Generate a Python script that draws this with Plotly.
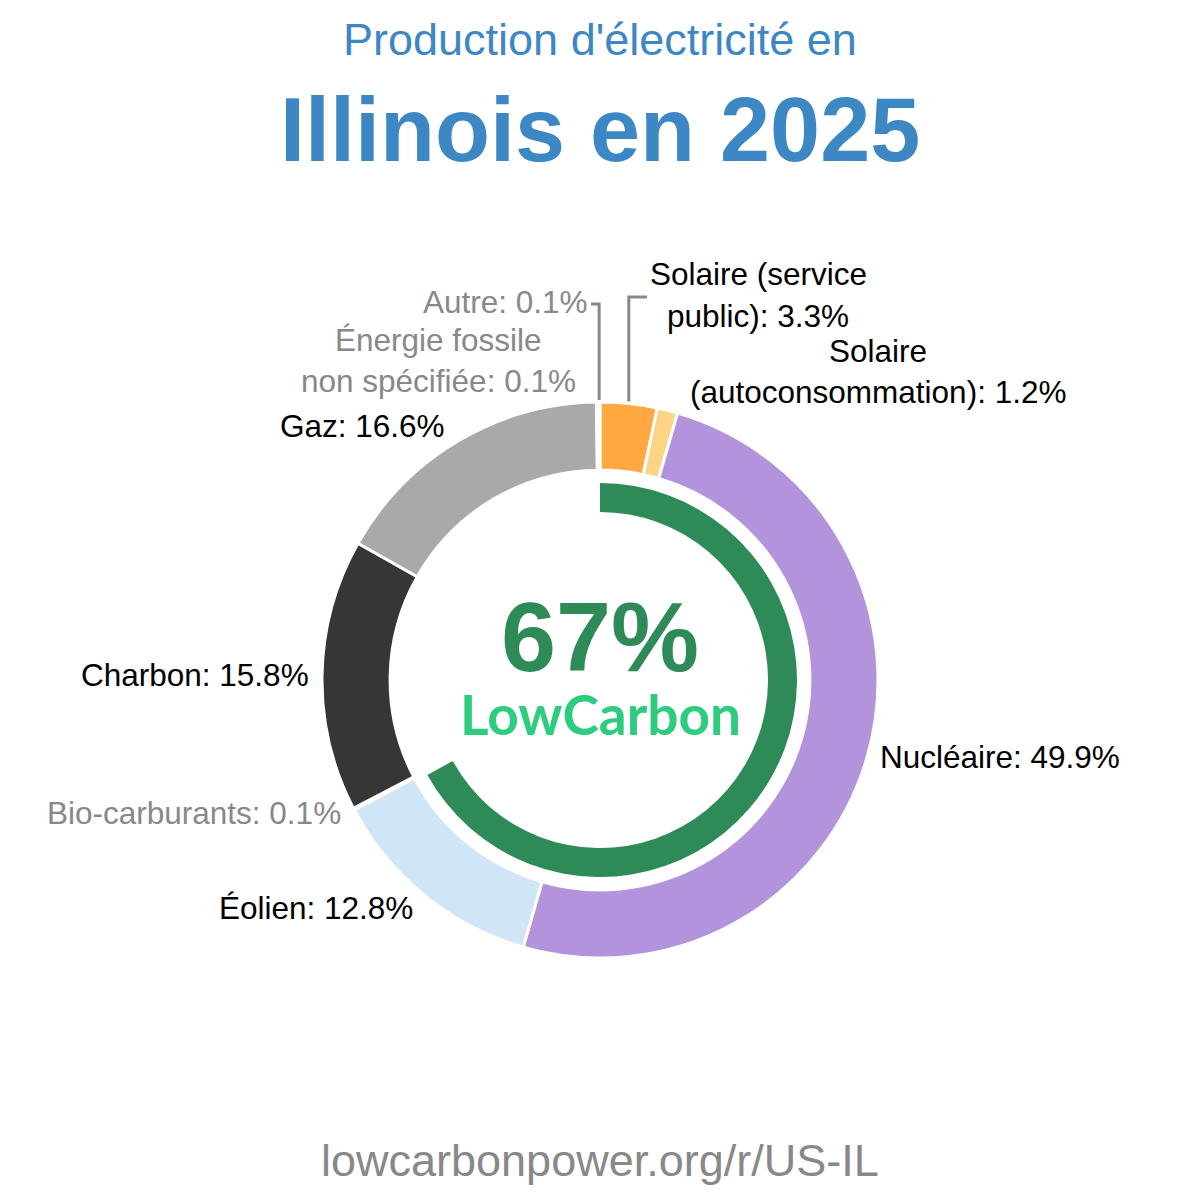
import plotly.graph_objects as go
import math

# ---- data ----
sources = ["Solaire (service public)", "Solaire (autoconsommation)", "Nucléaire", "Éolien",
           "Bio-carburants", "Charbon", "Gaz", "Énergie fossile non spécifiée", "Autre"]
shares = [3.3, 1.2, 49.9, 12.8, 0.1, 15.8, 16.6, 0.1, 0.1]
colors = ["#ffa940", "#fdd483", "#b393db", "#d0e6f7", "#a0c48a", "#363636", "#a9a9a9", "#777777", "#999999"]
low_carbon_share = 67

W = H = 1200
CX, CY = 600, 680
R_OUT = 278
R_GREEN = 197


def px(x):
    return x / W


def py(y):
    return 1 - y / H


fig = go.Figure()

fig.add_trace(go.Pie(
    labels=sources, values=shares, sort=False, direction="clockwise", rotation=0,
    hole=0.755, marker=dict(colors=colors, line=dict(color="white", width=3)),
    textinfo="none", hoverinfo="label+percent", showlegend=False,
    domain=dict(x=[px(CX - R_OUT), px(CX + R_OUT)], y=[py(CY + R_OUT), py(CY - R_OUT)]),
))

fig.add_trace(go.Pie(
    labels=["Bas carbone", "Autre"], values=[low_carbon_share, 100 - low_carbon_share],
    sort=False, direction="clockwise", rotation=0, hole=0.853,
    marker=dict(colors=["#2e8b57", "rgba(0,0,0,0)"], line=dict(width=0)),
    textinfo="none", hoverinfo="skip", showlegend=False,
    domain=dict(x=[px(CX - R_GREEN), px(CX + R_GREEN)], y=[py(CY + R_GREEN), py(CY - R_GREEN)]),
))

ann = []


def text(x, y, s, size=32, color="black", anchor="center", family="Liberation Sans, Arial, sans-serif", weight=None):
    f = dict(size=size, color=color, family=family)
    if weight:
        f["weight"] = weight
    ann.append(dict(x=px(x), y=py(y), xref="paper", yref="paper", text=s, showarrow=False,
                    xanchor=anchor, yanchor="middle", font=f))


BLUE = "#3d87c4"
GREY = "#888888"
LS = 31.5

text(600, 40, "Production d'électricité en", size=45, color=BLUE)
text(600, 130, "<b>Illinois en 2025</b>", size=90, color=BLUE)
text(600, 636, "<b>67%</b>", size=99, color="#2e8b57")
text(600, 714, "<b>LowCarbon</b>", size=55, color="#2ecc7f", family="Lato, sans-serif")
text(600, 1160, "lowcarbonpower.org/r/US-IL", size=45, color=GREY)

# slice labels
text(758, 274, "Solaire (service", size=LS)
text(758, 316, "public): 3.3%", size=LS)
text(878, 351, "Solaire", size=LS)
text(878, 392, "(autoconsommation): 1.2%", size=LS)
text(590, 302, "Autre: 0.1%", size=LS, color=GREY, anchor="right")
text(438, 340, "Énergie fossile", size=LS, color=GREY)
text(438, 381, "non spécifiée: 0.1%", size=LS, color=GREY)
text(447, 426, "Gaz: 16.6%", size=LS, anchor="right")
text(311, 675, "Charbon: 15.8%", size=LS, anchor="right")
text(343, 813, "Bio-carburants: 0.1%", size=LS, color=GREY, anchor="right")
text(415, 908, "Éolien: 12.8%", size=LS, anchor="right")
text(878, 757, "Nucléaire: 49.9%", size=LS, anchor="left")

# leader lines computed from slice mid-angles
total = sum(shares)
cum = 0
mids = {}
for s, v in zip(sources, shares):
    mids[s] = (cum + v / 2) / total * 2 * math.pi
    cum += v

shapes = []


def leader(name, top_y, end_x):
    a = mids[name]
    x0 = CX + R_OUT * math.sin(a)
    y0 = CY - R_OUT * math.cos(a)
    path = f"M {px(x0)},{py(y0 - 2)} L {px(x0)},{py(top_y)} L {px(end_x)},{py(top_y)}"
    shapes.append(dict(type="path", path=path, xref="paper", yref="paper",
                       line=dict(color=GREY, width=3)))


leader("Autre", 304, 591)
leader("Solaire (service public)", 297, 647)

fig.update_layout(
    width=W, height=H, margin=dict(l=0, r=0, t=0, b=0),
    paper_bgcolor="white", plot_bgcolor="white",
    annotations=ann, shapes=shapes, showlegend=False,
)

fig.write_html("out.html")
